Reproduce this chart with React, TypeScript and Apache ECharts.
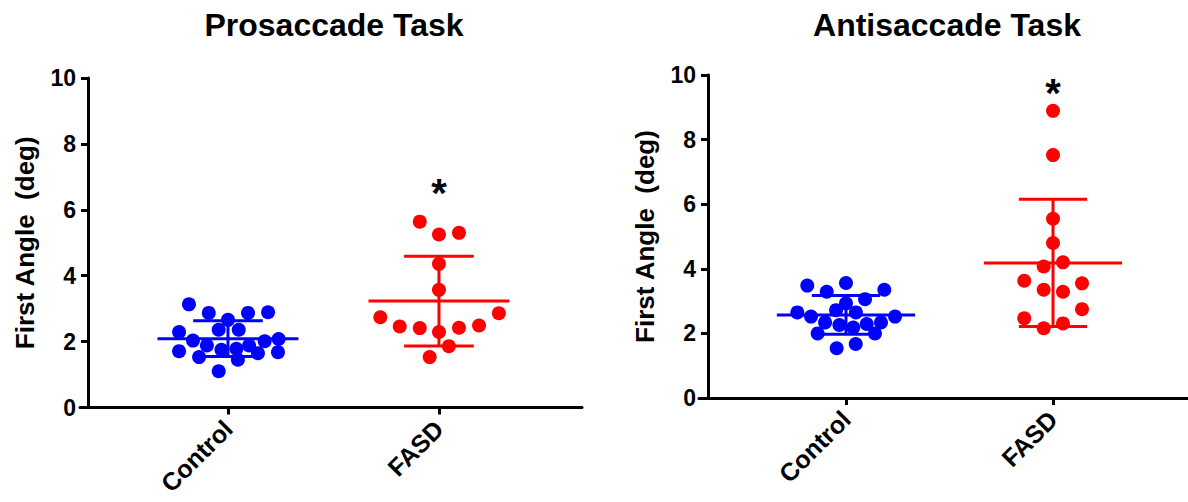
import React, { useEffect, useRef } from "react";
import * as echarts from "echarts";

const GROUPS = ["Control", "FASD"];
const TITLES = ["Prosaccade Task", "Antisaccade Task"];
const Y_NAME = "First Angle  (deg)";
const Y_TICKS = [0, 2, 4, 6, 8, 10];

// [x position (group 1 = Control, 2 = FASD, with swarm offset), first angle (deg)]
const proControl: [number, number][] = [
  [0.815, 3.13], [0.909, 2.87], [1.095, 2.87], [1.19, 2.89], [1.0, 2.66],
  [0.768, 2.29], [0.956, 2.36], [1.051, 2.36], [0.834, 2.03], [1.174, 2.01],
  [1.24, 2.08], [0.9, 1.88], [1.1, 1.88], [0.768, 1.71], [0.969, 1.75],
  [1.04, 1.78], [1.142, 1.65], [1.237, 1.68], [0.863, 1.53], [1.047, 1.45],
  [0.956, 1.1],
];
const proFASD: [number, number][] = [
  [1.909, 5.64], [2.0, 5.25], [2.095, 5.3], [2.0, 4.36], [2.0, 3.57],
  [1.722, 2.74], [2.284, 2.86], [1.814, 2.46], [1.909, 2.41], [2.0, 2.29],
  [2.095, 2.42], [2.19, 2.49], [2.047, 1.86], [1.956, 1.53],
];
const antiControl: [number, number][] = [
  [0.813, 3.48], [0.907, 3.29], [1.0, 3.56], [1.185, 3.35], [1.092, 3.06],
  [1.0, 2.93], [0.765, 2.65], [0.952, 2.72], [1.048, 2.65], [0.831, 2.52],
  [1.237, 2.52], [0.899, 2.34], [0.968, 2.26], [1.035, 2.18], [1.1, 2.29],
  [1.169, 2.34], [0.863, 2.0], [1.14, 2.0], [0.955, 1.54], [1.047, 1.67],
];
const antiFASD: [number, number][] = [
  [2.0, 8.89], [2.0, 7.52], [2.0, 5.55], [2.0, 4.8], [1.955, 4.07],
  [2.048, 4.2], [1.861, 3.63], [2.14, 3.55], [1.955, 3.35], [2.048, 3.29],
  [1.861, 2.47], [2.14, 2.75], [1.955, 2.16], [2.048, 2.31],
];

// mean and SD per group [Control, FASD]
const proMean = [2.09, 3.23];
const proSD = [0.54, 1.36];
const antiMean = [2.57, 4.18];
const antiSD = [0.6, 1.97];

// significance markers [group, y]
const proStar: [number, number] = [2, 6.5];
const antiStar: [number, number] = [2, 9.45];

const COLORS = ["#0000FF", "#FF0000"];
const FONT = "'Liberation Sans', Arial, Helvetica, sans-serif";
const MEAN_HALF = 0.334;
const WHISK_HALF = 0.165;

function meanSdSeries(gridIdx: number, group: number, mean: number, sd: number, color: string) {
  return {
    type: "custom",
    xAxisIndex: gridIdx,
    yAxisIndex: gridIdx,
    z: 2,
    data: [[group, mean, sd]],
    renderItem: (params: any, api: any) => {
      const x = api.value(0);
      const m = api.value(1);
      const s = api.value(2);
      const ml = api.coord([x - MEAN_HALF, m]);
      const mr = api.coord([x + MEAN_HALF, m]);
      const top = api.coord([x, m + s]);
      const bot = api.coord([x, m - s]);
      const tl = api.coord([x - WHISK_HALF, m + s]);
      const tr = api.coord([x + WHISK_HALF, m + s]);
      const bl = api.coord([x - WHISK_HALF, m - s]);
      const br = api.coord([x + WHISK_HALF, m - s]);
      const style = { stroke: color, lineWidth: 3 };
      return {
        type: "group",
        children: [
          { type: "line", shape: { x1: ml[0], y1: ml[1], x2: mr[0], y2: mr[1] }, style },
          { type: "line", shape: { x1: top[0], y1: top[1], x2: bot[0], y2: bot[1] }, style },
          { type: "line", shape: { x1: tl[0], y1: tl[1], x2: tr[0], y2: tr[1] }, style },
          { type: "line", shape: { x1: bl[0], y1: bl[1], x2: br[0], y2: br[1] }, style },
        ],
      };
    },
  };
}

function scatter(gridIdx: number, data: [number, number][], color: string) {
  return {
    type: "scatter",
    xAxisIndex: gridIdx,
    yAxisIndex: gridIdx,
    z: 3,
    symbol: "circle",
    symbolSize: 14,
    itemStyle: { color, opacity: 1 },
    data,
  };
}

function star(gridIdx: number, pos: [number, number]) {
  return {
    type: "scatter",
    xAxisIndex: gridIdx,
    yAxisIndex: gridIdx,
    symbolSize: 0,
    itemStyle: { color: "#000" },
    label: {
      show: true,
      position: "inside",
      formatter: "*",
      color: "#000",
      textBorderWidth: 0,
      opacity: 1,
      fontSize: 40,
      fontWeight: "bold",
      fontFamily: FONT,
    },
    data: [pos],
  };
}

const GRIDS = [
  { left: 80, top: 78, width: 502, height: 329.5, yOffset: -8, xMin: 0.2986, xMax: 2.678 },
  { left: 699, top: 75, width: 489, height: 323, yOffset: -9, xMin: 0.29, xMax: 2.652 },
];

export default function App() {
  const ref = useRef<HTMLDivElement>(null);
  useEffect(() => {
    if (!ref.current) return;
    const chart = echarts.init(ref.current, null, { renderer: "svg" });
    const axisLine = { show: true, lineStyle: { color: "#000", width: 3 } };
    const option: any = {
      animation: false,
      backgroundColor: "#fff",
      textStyle: { fontFamily: FONT },
      grid: GRIDS.map((g) => ({ left: g.left, top: g.top, width: g.width, height: g.height, containLabel: false })),
      xAxis: GRIDS.map((g, i) => ({
        type: "value",
        gridIndex: i,
        min: g.xMin,
        max: g.xMax,
        axisLine: { ...axisLine, onZero: true },
        axisTick: { show: true, length: 7, lineStyle: { color: "#000", width: 3 }, customValues: [1, 2] },
        axisLabel: {
          show: true,
          customValues: [1, 2],
          formatter: (v: number) => GROUPS[Math.round(v) - 1] ?? "",
          rotate: 45,
          margin: 17,
          color: "#000",
          fontSize: 25,
          fontWeight: "bold",
          fontFamily: FONT,
        },
        splitLine: { show: false },
      })),
      yAxis: GRIDS.map((g, i) => ({
        type: "value",
        gridIndex: i,
        min: Y_TICKS[0],
        max: Y_TICKS[Y_TICKS.length - 1],
        interval: 2,
        offset: g.yOffset,
        name: Y_NAME,
        nameLocation: "middle",
        nameRotate: 90,
        nameGap: 50,
        nameTextStyle: { color: "#000", fontSize: 26, fontWeight: "bold", fontFamily: FONT },
        axisLine: { ...axisLine, onZero: false },
        axisTick: { show: true, length: 7, lineStyle: { color: "#000", width: 3 } },
        axisLabel: { color: "#000", fontSize: 23, fontWeight: "bold", fontFamily: FONT, margin: 12 },
        splitLine: { show: false },
      })),
      graphic: [
        {
          type: "text",
          x: 334,
          y: 25,
          style: { text: TITLES[0], font: `bold 32px ${FONT}`, fill: "#000", textAlign: "center", textVerticalAlign: "middle" },
        },
        {
          type: "text",
          x: 947,
          y: 25,
          style: { text: TITLES[1], font: `bold 32px ${FONT}`, fill: "#000", textAlign: "center", textVerticalAlign: "middle" },
        },
      ],
      series: [
        meanSdSeries(0, 1, proMean[0], proSD[0], COLORS[0]),
        meanSdSeries(0, 2, proMean[1], proSD[1], COLORS[1]),
        meanSdSeries(1, 1, antiMean[0], antiSD[0], COLORS[0]),
        meanSdSeries(1, 2, antiMean[1], antiSD[1], COLORS[1]),
        scatter(0, proControl, COLORS[0]),
        scatter(0, proFASD, COLORS[1]),
        scatter(1, antiControl, COLORS[0]),
        scatter(1, antiFASD, COLORS[1]),
        star(0, proStar),
        star(1, antiStar),
      ],
    };
    chart.setOption(option);
    return () => chart.dispose();
  }, []);
  return <div ref={ref} style={{ position: "fixed", left: 0, top: 0, width: 1188, height: 502 }} />;
}
